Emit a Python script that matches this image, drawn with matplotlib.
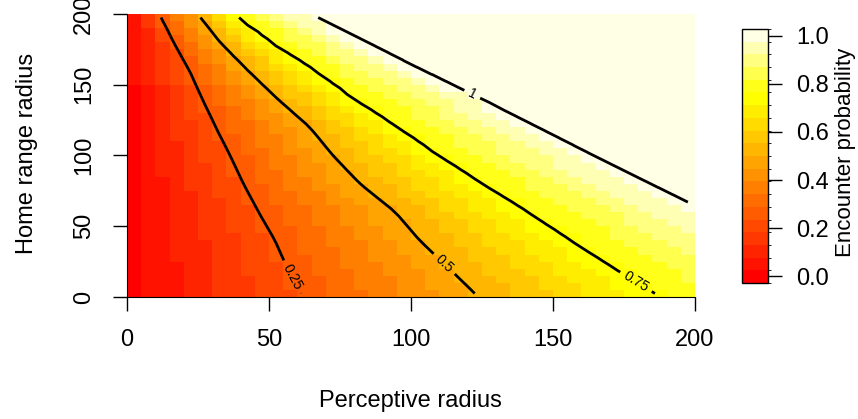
import colorsys
import numpy as np
import matplotlib
matplotlib.use("Agg")
import matplotlib.pyplot as plt
from matplotlib.colors import ListedColormap, BoundaryNorm

plt.rcParams["font.family"] = ["Liberation Sans", "DejaVu Sans"]

# contour crossings: perceptive radius (x) at which the
# encounter probability reaches each level, for home range radius rows
home_range = [0, 20, 40, 60, 80, 100, 120, 140, 160, 180, 200]
x_p25 = [62.0, 56.5, 52.1, 46.3, 41.0, 36.3, 31.2, 26.5, 22.0, 16.4, 11.3]
x_p50 = [123.7, 113.5, 103.0, 94.5, 82.0, 72.5, 64.4, 53.0, 42.5, 32.7, 25.0]
x_p75 = [187.7, 171.5, 156.0, 141.0, 125.0, 109.5, 95.0, 79.5, 66.0, 50.4, 37.0]
x_p100 = [265.0, 245.0, 225.0, 203.0, 181.8, 161.5, 143.0, 125.5, 101.0, 83.0, 63.0]
levels = [0.0, 0.25, 0.5, 0.75, 1.0]

edges = np.arange(0, 205, 5)
centers = edges[:-1] + 2.5
prob = np.empty((len(centers), len(centers)))
for i, y in enumerate(centers):
    knots = [0.0] + [np.interp(y, home_range, t) for t in (x_p25, x_p50, x_p75, x_p100)]
    prob[i] = np.interp(centers, knots, levels)

# R heat.colors(20)
n = 20
j = n // 4
k = n - j
cols = [colorsys.hsv_to_rgb(h, 1, 1) for h in np.linspace(0, 1 / 6, k)]
cols += [colorsys.hsv_to_rgb(1 / 6, s, 1) for s in np.linspace(1 - 1 / (2 * j), 1 / (2 * j), j)]
cmap = ListedColormap(cols)
bounds = np.linspace(-0.027, 1.027, n + 1)
norm = BoundaryNorm(bounds, n)

fig = plt.figure(figsize=(8.58, 4.19), dpi=100)
ax = fig.add_axes([127 / 858, 1 - 297 / 419, 568 / 858, 283 / 419])
mesh = ax.pcolormesh(edges, edges, prob, cmap=cmap, norm=norm, shading="flat")
cs = ax.contour(centers, centers, prob, levels=[0.25, 0.5, 0.75, 0.999],
                colors="black", linewidths=2.0)
ax.clabel(cs, fmt={0.25: "0.25", 0.5: "0.5", 0.75: "0.75", 0.999: "1"},
          fontsize=10, inline=True, inline_spacing=5,
          manual=[(58, 14), (111, 22), (179, 10), (121, 141)])

ax.set_xlim(0, 200)
ax.set_ylim(0, 200)
ticks = [0, 50, 100, 150, 200]
ax.set_xticks(ticks)
ax.set_yticks(ticks)
ax.set_yticklabels([str(t) for t in ticks], rotation=90, va="center")
ax.tick_params(direction="out", length=10, width=1, pad=13, labelsize=17)
for s in ("top", "right"):
    ax.spines[s].set_visible(False)

fig.text(410 / 858, 1 - 401 / 419, "Perceptive radius", ha="center", va="center", fontsize=17)
fig.text(27 / 858, 1 - 153 / 419, "Home range radius", ha="center", va="center",
         rotation=90, fontsize=17)

cax = fig.add_axes([742 / 858, 1 - 283 / 419, 26 / 858, 254 / 419])
cb = fig.colorbar(mesh, cax=cax, ticks=[0, 0.2, 0.4, 0.6, 0.8, 1.0])
cb.ax.set_yticklabels(["0.0", "0.2", "0.4", "0.6", "0.8", "1.0"])
cb.ax.tick_params(length=10, width=1, pad=10, labelsize=17)
cb.outline.set_linewidth(1)
fig.text(845 / 858, 1 - 152 / 419, "Encounter probability", ha="center", va="center",
         rotation=90, fontsize=16)

fig.savefig("out.png", dpi=100)
